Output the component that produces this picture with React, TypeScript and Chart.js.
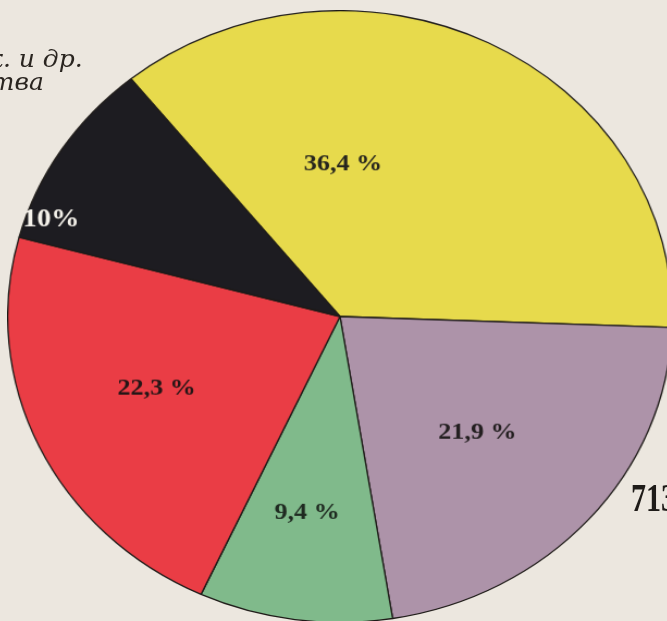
import React, { useEffect, useRef } from "react";
import { Chart, registerables } from "chart.js";

Chart.register(...registerables);

// Data (clockwise from the black/yellow boundary)
const categories = ["Жёлтый", "Лиловый", "Зелёный", "Красный", "Чёрный"];
const shares = [36.4, 21.9, 9.4, 22.3, 10];
const shareLabels = ["36,4 %", "21,9 %", "9,4 %", "22,3 %", "10%"];
const sliceColors = ["#e7da4c", "#ad93a9", "#80ba8b", "#ea3d45", "#1d1c21"];
const labelColors = ["#26251e", "#231f20", "#1f2a21", "#241616", "#f4f1ea"];

// label placement (radius fraction, angle offset in degrees from slice middle)
const labelRadius = [0.5, 0.56, 0.65, 0.6, 0.925];
const labelAngleShift = [-25.5, 1, 1, 2, -13];

const sliceLabels = {
  id: "sliceLabels",
  afterDatasetsDraw(chart: any) {
    const ctx = chart.ctx;
    const meta = chart.getDatasetMeta(0);
    meta.data.forEach((arc: any, i: number) => {
      const p = arc.getProps(["x", "y", "startAngle", "endAngle", "outerRadius"], true);
      const mid = (p.startAngle + p.endAngle) / 2 + (labelAngleShift[i] * Math.PI) / 180;
      const r = p.outerRadius * labelRadius[i];
      const x = p.x + Math.cos(mid) * r;
      const y = p.y + Math.sin(mid) * r;
      ctx.save();
      ctx.fillStyle = labelColors[i];
      ctx.font = i === 4 ? "bold 26px 'Liberation Serif'" : "bold 24px 'Liberation Serif'";
      ctx.textAlign = "center";
      ctx.textBaseline = "middle";
      ctx.fillText(shareLabels[i], x, y);
      ctx.restore();
    });
  },
};

export default function App() {
  const ref = useRef<HTMLCanvasElement | null>(null);
  useEffect(() => {
    if (!ref.current) return;
    const chart = new Chart(ref.current, {
      type: "pie",
      data: {
        labels: categories,
        datasets: [
          {
            data: shares,
            backgroundColor: sliceColors,
            borderColor: "#1e1b18",
            borderWidth: 1.3,
          },
        ],
      },
      options: {
        animation: false,
        responsive: false,
        maintainAspectRatio: false,
        devicePixelRatio: 1,
        rotation: -39,
        layout: { padding: 0 },
        plugins: {
          legend: { display: false },
          tooltip: { enabled: false },
        },
      },
      plugins: [sliceLabels],
    });
    return () => chart.destroy();
  }, []);

  return (
    <div
      style={{
        position: "fixed",
        left: 0,
        top: 0,
        width: 667,
        height: 621,
        overflow: "hidden",
        background: "#ece7df",
      }}
    >
      <canvas
        ref={ref}
        width={612}
        height={612}
        style={{ position: "absolute", left: 7, top: 10, width: "666px", height: "613px" }}
      />
      <div
        style={{
          position: "absolute",
          left: -12,
          top: 44,
          fontFamily: "'DejaVu Serif', serif",
          fontStyle: "italic",
          fontSize: 25,
          color: "#2a2520",
          whiteSpace: "nowrap",
        }}
      >
        к. и др.
      </div>
      <div
        style={{
          position: "absolute",
          left: -120,
          width: 164,
          top: 67,
          textAlign: "right",
          fontFamily: "'DejaVu Serif', serif",
          fontStyle: "italic",
          fontSize: 25,
          color: "#2a2520",
          whiteSpace: "nowrap",
        }}
      >
        ства
      </div>
      <div
        style={{
          position: "absolute",
          left: 631,
          top: 474,
          fontFamily: "'Liberation Serif', serif",
          fontWeight: "bold",
          fontSize: 40,
          color: "#1e1b18",
          whiteSpace: "nowrap",
          transform: "scaleX(0.75)",
          transformOrigin: "left top",
        }}
      >
        713
      </div>
    </div>
  );
}
